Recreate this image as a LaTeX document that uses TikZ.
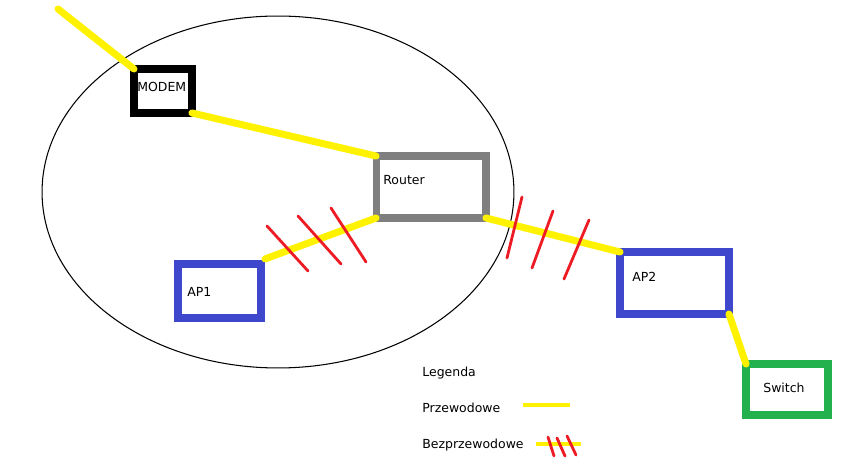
\documentclass[tikz,border=0pt]{standalone}
\usepackage{fontspec}
\setmainfont{DejaVu Sans}
\usetikzlibrary{positioning}
\definecolor{paintyellow}{RGB}{255,242,0}
\definecolor{paintred}{RGB}{237,28,36}
\definecolor{paintblue}{RGB}{63,72,204}
\definecolor{paintgray}{RGB}{127,127,127}
\definecolor{paintgreen}{RGB}{34,177,76}
\tikzset{
  device/.style={
    draw,
    rectangle,
    inner sep=0pt,
    outer sep=0pt
  },
  modembox/.style={device, draw=black, line width=4.3pt,
    minimum width=1.16cm, minimum height=0.88cm},
  routerbox/.style={device, draw=paintgray, line width=4pt,
    minimum width=2.2cm, minimum height=1.24cm},
  apbox/.style={device, draw=paintblue, line width=4.5pt},
  switchbox/.style={device, draw=paintgreen, line width=4.5pt,
    minimum width=1.64cm, minimum height=1.02cm},
  devlabel/.style={
    anchor=base west,
    inner sep=0pt,
    font=\fontsize{7.1pt}{8.5pt}\selectfont
  },
  wired/.style={draw=paintyellow, line width=4pt, line cap=round},
  wireless/.style={draw=paintred, line width=1.6pt, line cap=round},
  legendwire/.style={draw=paintyellow, line width=2pt},
  legendslash/.style={draw=paintred, line width=1.6pt, line cap=round}
}

\begin{document}
\begin{tikzpicture}[x=0.02cm, y=-0.02cm]
  \useasboundingbox (0,0) rectangle (856,472);
  % zasieg sieci domowej
  \draw [line width=0.6pt] (278,192) ellipse [x radius=4.72cm, y radius=3.52cm];

  \node (modem) [modembox] at (163,91) {};
  \node (router) [routerbox] at (431,187) {};
  \node (ap1) [apbox, minimum width=1.66cm, minimum height=1.08cm] at (219.5,291) {};
  \node (ap2) [apbox, minimum width=2.18cm, minimum height=1.24cm] at (674.5,283) {};
  \node (switch) [switchbox] at (787,389.5) {};
  \coordinate (wan) at (58,9);

  \node (modemlbl) [devlabel] at (137,92) {MODEM};
  \node (routerlbl) [devlabel] at (383,185) {Router};
  \node (ap1lbl) [devlabel] at (187,297) {AP1};
  \node (ap2lbl) [devlabel] at (632,282) {AP2};
  \node (switchlbl) [devlabel] at (763,393) {Switch};

  % polaczenia
  \path [wired]
  (wan) -- (modem.north west)
  (modem.south east) -- (router.north west)
  (router.south west) -- ([shift={(4,-5)}]ap1.north east)
  (router.south east) -- (ap2.north west)
  (ap2.south east) -- (switch.north west)
  ;
  \path [wireless]
  (267,226) -- (308,271)
  (298,216) -- (341,264)
  (331,208) -- (366,262)
  (522,197) -- (507,258)
  (553,211) -- (532,268)
  (589,220) -- (564,279)
  ;

  % legenda
  \node (legend) [devlabel] at (422,377) {Legenda};
  \node (wiredlbl) [devlabel] at (422,413) {Przewodowe};
  \node (wirelesslbl) [devlabel] at (422,449) {Bezprzewodowe};
  \path [legendwire] (523,405) -- (570,405);
  \path [legendwire] (536,444) -- (581,444);
  \path [legendslash]
  (548,437) -- (554,456)
  (557,438) -- (565,456)
  (567,436) -- (576,455)
  ;
\end{tikzpicture}
\end{document}
